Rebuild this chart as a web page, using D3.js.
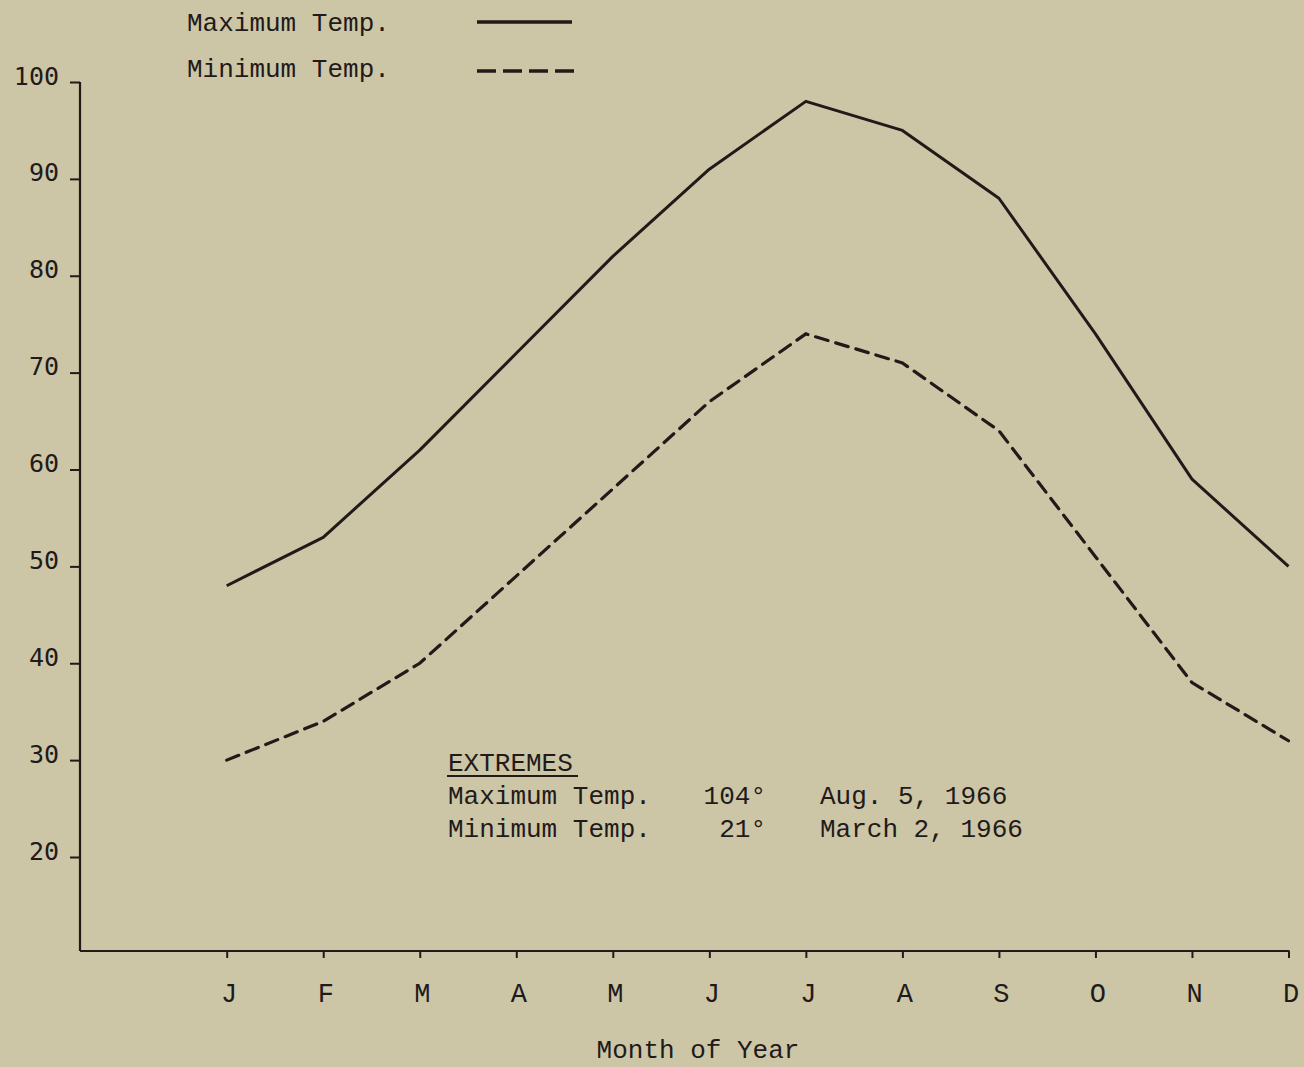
<!DOCTYPE html>
<html>
<head>
<meta charset="utf-8">
<script src="https://cdn.jsdelivr.net/npm/d3@7"></script>
<style>
  html, body { margin: 0; padding: 0; background: #ccc6a7; }
  svg { display: block; }
</style>
</head>
<body>
<svg id="chart" width="1304" height="1067"></svg>
<script>
const months = ["J","F","M","A","M","J","J","A","S","O","N","D"];
const maxTemp = [48, 53, 62, 72, 82, 91, 98, 95, 88, 74, 59, 50];
const minTemp = [30, 34, 40, 49, 58, 67, 74, 71, 64, 51, 38, 32];
const yTicks = [20, 30, 40, 50, 60, 70, 80, 90, 100];
const legendLabels = ["Maximum Temp.", "Minimum Temp."];
const extremesTitle = "EXTREMES";
const extremesRows = [
  {label: "Maximum Temp.", value: "104°", date: "Aug. 5, 1966"},
  {label: "Minimum Temp.", value: "21°", date: "March 2, 1966"}
];
const xTitle = "Month of Year";

const ink = "#221a19";
const serif = "'Liberation Mono', 'DejaVu Sans Mono', monospace";
const sans = "'DejaVu Sans Mono', monospace";

const svg = d3.select("#chart");
svg.append("rect").attr("width", 1304).attr("height", 1067).attr("fill", "#ccc6a7");

const axisX0 = 80, axisY = 951;
const x = d3.scalePoint().domain(d3.range(12)).range([226.7, 1288.5]);
const y = d3.scaleLinear().domain([20, 100]).range([857, 82]);

// y axis
const yAxis = d3.axisLeft(y).tickValues(yTicks).tickSize(10).tickPadding(11).tickFormat(d3.format("d"));
const gy = svg.append("g").attr("transform", `translate(${axisX0},0)`).call(yAxis);
gy.select(".domain").remove();
gy.selectAll(".tick line").attr("stroke", ink).attr("stroke-width", 2);
gy.selectAll(".tick text").attr("fill", ink).attr("font-family", sans).attr("font-size", 25)
  .attr("dy", "0.08em");
svg.append("line").attr("x1", axisX0).attr("x2", axisX0).attr("y1", y(100)).attr("y2", axisY)
  .attr("stroke", ink).attr("stroke-width", 2.2);

// x axis
const xAxis = d3.axisBottom(x).tickSize(7).tickPadding(25).tickFormat(i => months[i]);
const gx = svg.append("g").attr("transform", `translate(0,${axisY})`).call(xAxis);
gx.select(".domain").remove();
gx.selectAll(".tick line").attr("stroke", ink).attr("stroke-width", 2);
gx.selectAll(".tick text").attr("fill", ink).attr("font-family", serif).attr("font-size", 27)
  .attr("dx", 2);
svg.append("line").attr("x1", axisX0).attr("x2", x(11) + 1).attr("y1", axisY).attr("y2", axisY)
  .attr("stroke", ink).attr("stroke-width", 2.2);

// lines
const line = d3.line().x((d, i) => x(i)).y(d => y(d));
svg.append("path").datum(maxTemp).attr("d", line).attr("fill", "none")
  .attr("stroke", ink).attr("stroke-width", 3).attr("stroke-linejoin", "round");
svg.append("path").datum(minTemp).attr("d", line).attr("fill", "none")
  .attr("stroke", ink).attr("stroke-width", 3.2).attr("stroke-dasharray", "13,8")
  .attr("stroke-linecap", "round");

// legend
const legend = svg.append("g");
legendLabels.forEach((t, i) => {
  const by = i === 0 ? 31 : 77;
  legend.append("text").attr("x", 187).attr("y", by).text(t)
    .attr("font-family", serif).attr("font-size", 26).attr("fill", ink);
  const ly = i === 0 ? 22 : 71;
  legend.append("line").attr("x1", 477).attr("x2", i === 0 ? 572 : 575).attr("y1", ly).attr("y2", ly)
    .attr("stroke", ink).attr("stroke-width", 3.5)
    .attr("stroke-dasharray", i === 0 ? null : "19,7");
});

// extremes
const ext = svg.append("g").attr("font-family", serif).attr("font-size", 26).attr("fill", ink);
ext.append("text").attr("x", 448).attr("y", 771).text(extremesTitle);
ext.append("line").attr("x1", 447).attr("x2", 578).attr("y1", 776).attr("y2", 776)
  .attr("stroke", ink).attr("stroke-width", 1.8);
extremesRows.forEach((r, i) => {
  const by = 804 + i * 33;
  ext.append("text").attr("x", 448).attr("y", by).text(r.label);
  ext.append("text").attr("x", 766).attr("y", by).attr("text-anchor", "end").text(r.value);
  ext.append("text").attr("x", 820).attr("y", by).text(r.date);
});

// x title
svg.append("text").attr("x", 698).attr("y", 1058).attr("text-anchor", "middle")
  .attr("font-family", serif).attr("font-size", 26).attr("fill", ink).text(xTitle);
</script>
</body>
</html>
